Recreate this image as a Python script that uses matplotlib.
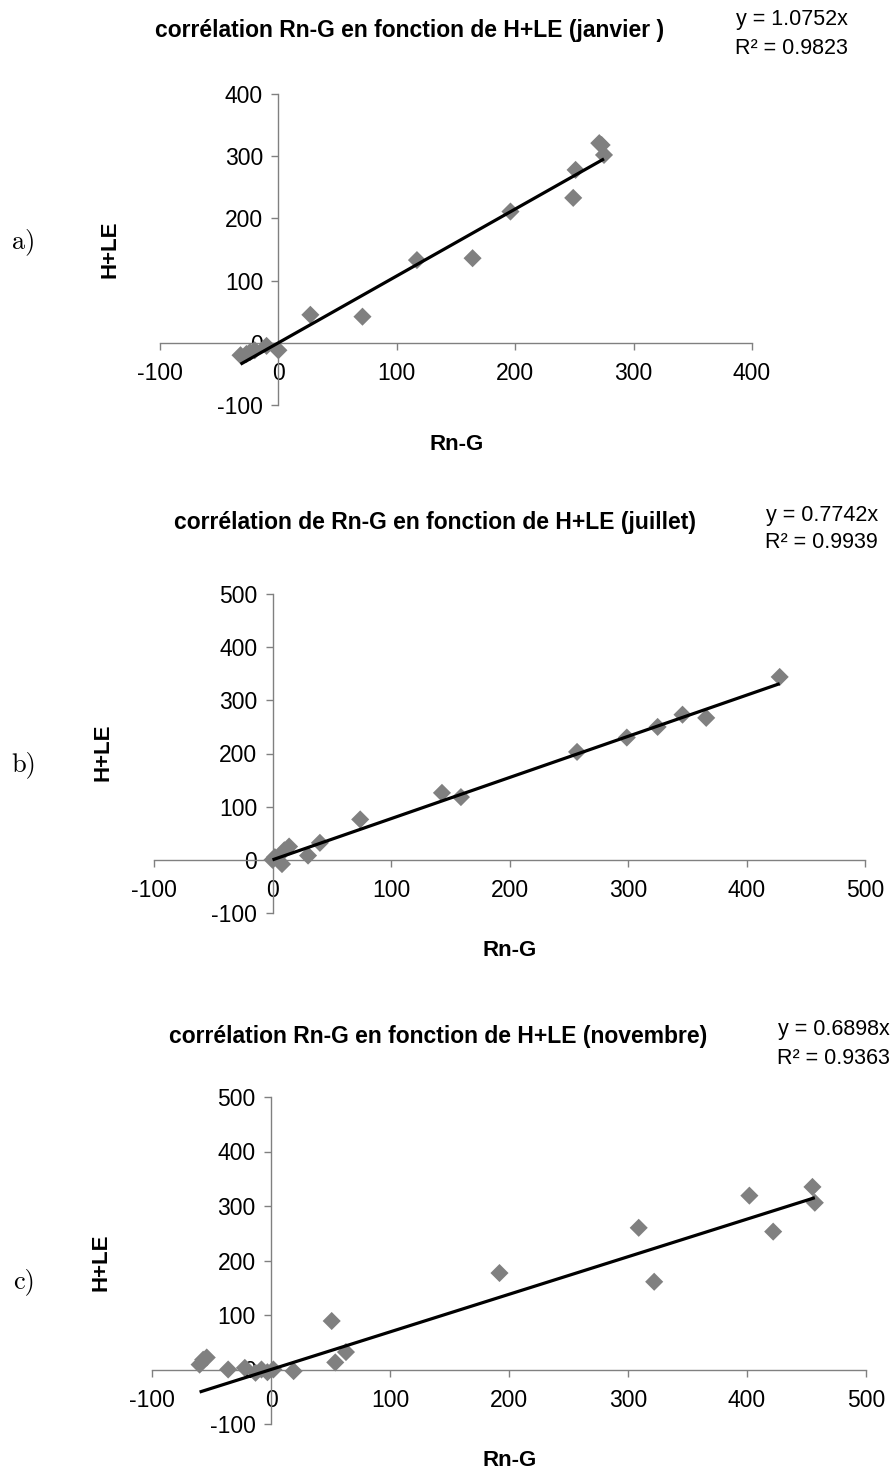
import matplotlib
matplotlib.use("Agg")
import matplotlib.pyplot as plt
import numpy as np

plt.rcParams['font.family'] = ['Liberation Sans', 'DejaVu Sans']
plt.rcParams['axes.unicode_minus'] = False

# ---- data ----
jan_x = [-32, -27, -24, -20, -10, 0, 27, 71, 117, 164, 196, 249, 251, 271, 273, 275]
jan_y = [-20, -18, -15, -12, -5, -12, 45, 42, 133, 136, 211, 233, 278, 321, 318, 302]
jan_slope = 1.0752
jan_r2 = 0.9823

jul_x = [0, 2, 8, 10, 14, 30, 40, 74, 143, 159, 257, 299, 325, 346, 366, 428]
jul_y = [0, 5, -8, 18, 25, 8, 32, 76, 126, 118, 203, 230, 250, 273, 267, 344]
jul_slope = 0.7742
jul_r2 = 0.9939

nov_x = [-60, -57, -54, -36, -22, -13, -8, -3, 2, 19, 51, 54, 63, 192, 309, 322, 402, 422, 455, 457]
nov_y = [9, 18, 22, 0, 3, -6, 0, -5, 0, -3, 89, 13, 32, 177, 260, 161, 319, 253, 335, 306]
nov_slope = 0.6898
nov_r2 = 0.9363

titles = ["corrélation Rn-G en fonction de H+LE (janvier )",
          "corrélation de Rn-G en fonction de H+LE (juillet)",
          "corrélation Rn-G en fonction de H+LE (novembre)"]
panel_labels = ["a)", "b)", "c)"]
x_ticks = [[-100, 0, 100, 200, 300, 400],
           [-100, 0, 100, 200, 300, 400, 500],
           [-100, 0, 100, 200, 300, 400, 500]]
y_ticks = [[-100, 0, 100, 200, 300, 400],
           [-100, 0, 100, 200, 300, 400, 500],
           [-100, 0, 100, 200, 300, 400, 500]]

W, H = 893, 1470
fig = plt.figure(figsize=(W / 100, H / 100), dpi=100)


def fx(px):
    return px / W


def fy(py):
    return 1 - py / H


# axes rectangles in pixels: (x_left, x_right, y_top, y_bottom)
rects = [(160, 752, 94, 405), (154, 865, 594, 913), (152, 866, 1097, 1424)]
title_pos = [(410, 30), (435, 522), (438, 1037)]
eq_pos = [(848, 20, 48), (878, 515, 543), (890, 1030, 1058)]
ylab_pos = [(110, 249), (103, 752), (101, 1262)]
xlab_pos = [(457, 445), (510, 950), (510, 1460)]
plab_pos = [(24, 242), (24, 765), (24, 1282)]

datasets = [(jan_x, jan_y, jan_slope, jan_r2),
            (jul_x, jul_y, jul_slope, jul_r2),
            (nov_x, nov_y, nov_slope, nov_r2)]

grey = '#808080'
for i, (xs, ys, slope, r2) in enumerate(datasets):
    l, r, t, b = rects[i]
    ax = fig.add_axes([fx(l), fy(b), fx(r) - fx(l), fy(t) - fy(b)])
    ax.set_xlim(x_ticks[i][0], x_ticks[i][-1])
    ax.set_ylim(y_ticks[i][0], y_ticks[i][-1])
    ax.set_xticks(x_ticks[i])
    ax.set_yticks(y_ticks[i])
    for s in ['top', 'right']:
        ax.spines[s].set_visible(False)
    ax.spines['left'].set_position(('data', 0))
    ax.spines['bottom'].set_position(('data', 0))
    for s in ['left', 'bottom']:
        ax.spines[s].set_color(grey)
        ax.spines[s].set_linewidth(1.0)
    ax.tick_params(axis='both', direction='out', length=5, width=1.0,
                   color=grey, labelsize=16.5)
    ax.tick_params(axis='x', pad=9)
    ax.tick_params(axis='y', pad=6)
    ax.patch.set_alpha(0)
    ax.scatter(xs, ys, marker='D', s=85, color=grey, edgecolors='none',
               zorder=3, clip_on=False)
    lx = np.array([min(xs), max(xs)])
    ax.plot(lx, slope * lx, color='black', lw=2.3, zorder=4,
            solid_capstyle='butt')

    fig.text(fx(title_pos[i][0]), fy(title_pos[i][1]), titles[i],
             ha='center', va='center', fontsize=16.5, fontweight='bold')
    ex, ey1, ey2 = eq_pos[i]
    fig.text(fx(ex), fy(ey1), f"y = {slope:.4f}x", ha='right', va='center',
             fontsize=15.5)
    fig.text(fx(ex), fy(ey2), f"R² = {r2:.4f}", ha='right', va='center',
             fontsize=15.5)
    fig.text(fx(ylab_pos[i][0]), fy(ylab_pos[i][1]), "H+LE", rotation=90,
             ha='center', va='center', fontsize=16, fontweight='bold')
    fig.text(fx(xlab_pos[i][0]), fy(xlab_pos[i][1]), "Rn-G",
             ha='center', va='center', fontsize=16, fontweight='bold')
    fig.text(fx(plab_pos[i][0]), fy(plab_pos[i][1]), panel_labels[i],
             ha='center', va='center', fontsize=19, family='cmr10')

fig.savefig("out.png", dpi=100)
